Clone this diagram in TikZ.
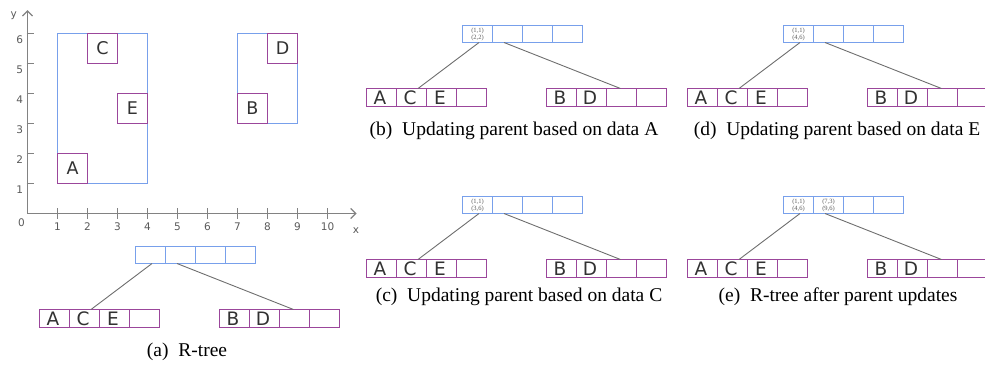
\documentclass[tikz,border=0pt]{standalone}
\usepackage{fontspec}
\setmainfont{Liberation Serif}
\newfontfamily\labelsans{DejaVu Sans}
\usetikzlibrary{arrows.meta}

\definecolor{mbrblue}{RGB}{120,160,235}
\definecolor{leafpurple}{RGB}{155,70,155}
\definecolor{axisgray}{RGB}{130,130,130}
\definecolor{linkgray}{RGB}{110,110,110}
\definecolor{numgray}{RGB}{90,90,90}
\definecolor{lettergray}{RGB}{50,50,50}

\tikzset{
  cell/.style={draw, line width=1.6pt, inner sep=0pt, outer sep=0pt, minimum width=30pt},
  pcell/.style={cell, draw=mbrblue, minimum height=17pt},
  lcell/.style={cell, draw=leafpurple, minimum height=18pt},
  ptext/.style={inner sep=0pt, align=center, font=\fontsize{6.5}{7}\selectfont, text=black!65},
  ltext/.style={inner sep=0pt, font=\labelsans\fontsize{18.5}{18.5}\selectfont, text=lettergray},
  link/.style={draw=linkgray, line width=0.9pt},
  caption/.style={font=\fontsize{19.5}{21}\selectfont, inner sep=0pt},
  mbr/.style={draw=mbrblue, line width=1.6pt},
  obj/.style={draw=leafpurple, line width=1.6pt, inner sep=0pt, outer sep=0pt,
    minimum width=30pt, minimum height=30pt},
  objtext/.style={inner sep=0pt, font=\labelsans\fontsize{17.5}{17.5}\selectfont, text=lettergray},
  axis/.style={draw=axisgray, line width=1.3pt, -{Straight Barb[length=5pt,width=10pt]}},
  tickmark/.style={draw=axisgray, line width=1.1pt},
  ticklabel/.style={font=\labelsans\fontsize{10.5}{10.5}\selectfont, text=numgray, inner sep=0pt},
}

% four empty cells side by side: prefix, style, top-left corner
\newcommand\cellrow[3]{%
  \node[#2, anchor=north west] (#1-1) at (#3) {};
  \node[#2, anchor=west] (#1-2) at (#1-1.east) {};
  \node[#2, anchor=west] (#1-3) at (#1-2.east) {};
  \node[#2, anchor=west] (#1-4) at (#1-3.east) {};}

% frame of one two-level R-tree: prefix, left x, top y
\newcommand\rtree[3]{%
  \cellrow{#1p}{pcell}{#2+96,#3}
  \cellrow{#1l}{lcell}{#2,#3+63}
  \cellrow{#1r}{lcell}{#2+180,#3+63}
  \draw[link] ([xshift=1.5pt]#1p-1.south) -- ([xshift=6.5pt]#1l-2.north);
  \draw[link] ([xshift=-3.5pt]#1p-2.south) -- ([xshift=-1pt]#1r-3.north);}

% letters of the two leaves of a tree
\newcommand\leafletters[1]{%
  \node[ltext] (#1l-1t) at ([xshift=-1.5pt]#1l-1.center) {A};
  \node[ltext] (#1l-2t) at ([xshift=-1.5pt]#1l-2.center) {C};
  \node[ltext] (#1l-3t) at ([xshift=-1.5pt]#1l-3.center) {E};
  \node[ltext] (#1r-1t) at ([xshift=-1.5pt]#1r-1.center) {B};
  \node[ltext] (#1r-2t) at ([xshift=-1.5pt]#1r-2.center) {D};}

\begin{document}
\begin{tikzpicture}[x=1pt, y=-1pt]
\useasboundingbox (0,0) rectangle (985,368);

% ---- spatial layout of the data rectangles: lines ----
\begin{scope}[shift={(27.5,213.5)}, x=30pt, y=30pt]
  \draw[axis] (0,0) -- (10.97,0);
  \draw[axis] (0,0) -- (0,6.78);
  \foreach \i in {1,...,10}
    \draw[tickmark] (\i,-0.17) -- (\i,0.17);
  \foreach \i in {1,...,6}
    \draw[tickmark] (-0.03,\i) -- (0.2,\i);

  \draw[mbr] (1,1) rectangle (4,6);
  \draw[mbr] (7,3) rectangle (9,6);

  \node[obj] (objA) at (1.5,1.5) {};
  \node[obj] (objC) at (2.5,5.5) {};
  \node[obj] (objE) at (3.5,3.5) {};
  \node[obj] (objB) at (7.5,3.5) {};
  \node[obj] (objD) at (8.5,5.5) {};
\end{scope}

% ---- tree frames and links ----
\rtree{a}{39.5}{246.5}
\rtree{b}{366.5}{25.5}
\rtree{c}{366.5}{196.5}
\rtree{d}{687.5}{25.5}
\rtree{e}{687.5}{196.5}

% ---- texts ----
\begin{scope}[shift={(27.5,213.5)}, x=30pt, y=30pt]
  \foreach \i in {1,...,10}
    \node[ticklabel] (xt\i) at (\i,-0.45) {\i};
  \foreach \i in {1,...,6}
    \node[ticklabel] (yt\i) at (-0.26,\i-0.2) {\i};
  \node[ticklabel] (origin) at (-0.2,-0.31) {0};
  \node[ticklabel] (xlab) at (10.95,-0.56) {x};
  \node[ticklabel] (ylab) at (-0.46,6.58) {y};
\end{scope}
\node[objtext] (objAt) at (objA) {A};
\node[objtext] (objCt) at (objC) {C};
\node[objtext] (objEt) at (objE) {E};
\node[objtext] (objBt) at (objB) {B};
\node[objtext] (objDt) at (objD) {D};

\leafletters{a}
\leafletters{b}
\leafletters{c}
\leafletters{d}
\leafletters{e}

\node[ptext] (bp-1t) at (bp-1) {(1,1)\\(2,2)};
\node[ptext] (cp-1t) at (cp-1) {(1,1)\\(3,6)};
\node[ptext] (dp-1t) at (dp-1) {(1,1)\\(4,6)};
\node[ptext] (ep-1t) at (ep-1) {(1,1)\\(4,6)};
\node[ptext] (ep-2t) at (ep-2) {(7,3)\\(9,6)};

% ---- captions ----
\node[caption] (capa) at (187,352) {(a)\enspace R-tree};
\node[caption] (capb) at (514,131) {(b)\enspace Updating parent based on data A};
\node[caption] (capc) at (519,297) {(c)\enspace Updating parent based on data C};
\node[caption] (capd) at (837,131) {(d)\enspace Updating parent based on data E};
\node[caption] (cape) at (838,297) {(e)\enspace R-tree after parent updates};
\end{tikzpicture}
\end{document}
